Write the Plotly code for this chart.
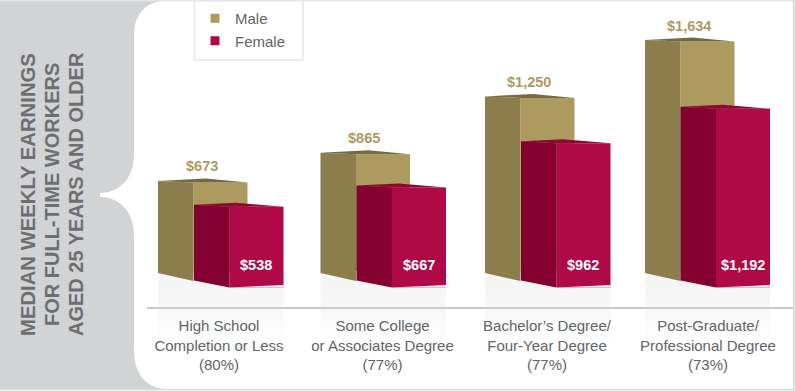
import plotly.graph_objects as go

categories = ["High School<br>Completion or Less<br>(80%)",
              "Some College<br>or Associates Degree<br>(77%)",
              "Bachelor\u2019s Degree/<br>Four-Year Degree<br>(77%)",
              "Post-Graduate/<br>Professional Degree<br>(73%)"]
male = [673, 865, 1250, 1634]
female = [538, 667, 962, 1192]
axis_title_lines = ["MEDIAN WEEKLY EARNINGS", "FOR FULL-TIME WORKERS", "AGED 25 YEARS AND OLDER"]

# layout constants
W, H = 795, 391
FONT = "Liberation Sans"
male_left = [158, 320.5, 485, 645]
female_left = [194, 356.5, 521, 680.5]
tick_pos = [219, 382.5, 547, 708]
SIDE, FRONT = 35.5, 54
M_SCALE, F_SCALE = 0.1465, 0.150   # px per dollar
M_BASE, F_BASE = 281, 287.5        # px of the zero line of each bar family

M_FRONT, M_SIDE, M_TOP = "#ad9a5f", "#8c7d4c", "#76693f"
F_FRONT, F_SIDE, F_TOP = "#b00a46", "#84002f", "#8e0736"
TEXT = "#636466"

m_range = [(M_BASE - H) / M_SCALE, M_BASE / M_SCALE]
f_range = [(F_BASE - H) / F_SCALE, F_BASE / F_SCALE]
def md(v, dy=0):  # value on male axis, dy px upward
    return v + dy / M_SCALE
def fd(v, dy=0):
    return v + dy / F_SCALE
def px(x): return x / W
def py(y): return 1 - y / H

fig = go.Figure()

def poly(xs, ys, color, axis):
    fig.add_trace(go.Scatter(x=xs, y=ys, mode="lines", fill="toself", fillcolor=color,
                             line=dict(width=0), yaxis=axis, showlegend=False, hoverinfo="skip"))

# reflection below each pair of bars
for l0, l1 in zip(male_left, female_left):
    x0, x1 = l0, l1 + SIDE + FRONT
    fig.add_trace(go.Scatter(
        x=[x0, x1, x1, x0, x0],
        y=[md(0, 10), md(0, 10), md(0, -64), md(0, -64), md(0, 10)],
        mode="lines", line=dict(width=0), fill="toself",
        fillgradient=dict(type="vertical", colorscale=[[0, "#ffffff"], [0.45, "#f8f8f8"], [1, "#f4f4f5"]]),
        showlegend=False, hoverinfo="skip"))

# male bars
fig.add_trace(go.Bar(x=[l + SIDE + FRONT / 2 for l in male_left], y=male, width=FRONT,
                     marker=dict(color=M_FRONT, line=dict(width=0)), showlegend=False,
                     name="Male", hovertemplate="Male: $%{y}<extra></extra>"))
for l, v in zip(male_left, male):
    a, b, c = l, l + SIDE, l + SIDE + FRONT
    poly([a, b, b, a, a], [md(v, 1.5), md(v), md(0), md(0, 8), md(v, 1.5)], M_SIDE, "y")
    poly([a, a + 48, c, b, a], [md(v, 1.5), md(v, 4), md(v), md(v), md(v, 1.5)], M_TOP, "y")

# female bars
fig.add_trace(go.Bar(x=[l + SIDE + FRONT / 2 for l in female_left], y=female, width=FRONT,
                     marker=dict(color=F_FRONT, line=dict(width=0)), showlegend=False,
                     name="Female", yaxis="y2", hovertemplate="Female: $%{y}<extra></extra>"))
for l, v in zip(female_left, female):
    a, b, c = l, l + SIDE, l + SIDE + FRONT
    poly([a, b, b, a, a], [fd(v, 2), fd(v), fd(0), fd(0, 7), fd(v, 2)], F_SIDE, "y2")
    poly([a, a + 42, c, b, a], [fd(v, 2), fd(v, 4), fd(v), fd(v), fd(v, 2)], F_TOP, "y2")
    # the slightly tilted lower edge of the front face
    poly([b, c, c, b], [fd(0), fd(0, 2.5), fd(0), fd(0)], "#f4f4f5", "y2")

# legend entries
for name, col in (("Male", M_FRONT), ("Female", F_FRONT)):
    fig.add_trace(go.Scatter(x=[None], y=[None], mode="markers", name=name,
                             marker=dict(symbol="square", size=9, color=col, line=dict(width=0))))

ann = []
for l, v in zip(male_left, male):
    ann.append(dict(x=l + 43.5, y=v, xref="x", yref="y", text=f"${v:,}", showarrow=False, yshift=16,
                    font=dict(family=FONT, size=14.5, color=M_FRONT, weight="bold")))
for l, v in zip(female_left, female):
    ann.append(dict(x=l + SIDE + FRONT / 2 - 0.5, y=0, xref="x", yref="y2", text=f"${v:,}", showarrow=False, yshift=23,
                    font=dict(family=FONT, size=14.5, color="#ffffff", weight="bold")))
for x, t, s in zip([27.5, 51.5, 75.5], axis_title_lines, [20.3, 20, 20]):
    ann.append(dict(x=px(x), y=py(194.5), xref="paper", yref="paper", text=t, textangle=-90, showarrow=False,
                    xanchor="center", yanchor="middle",
                    font=dict(family=FONT, size=s, color="#6d6e71", weight="bold")))

def panel_path():
    pts = [("M", 166, 1), ("L", 793, 1), ("L", 793, 389), ("L", 168, 389),
           ("C", 146, 389, 134, 374, 134, 350), ("L", 134, 236),
           ("C", 134, 210, 118, 197, 100, 197), ("L", 100, 193),
           ("C", 118, 193, 134, 180, 134, 154), ("L", 134, 36),
           ("C", 134, 14, 146, 1, 166, 1)]
    s = ""
    for p in pts:
        coords = p[1:]
        s += p[0] + " " + " ".join(f"{px(coords[i]):.5f},{py(coords[i+1]):.5f}" for i in range(0, len(coords), 2)) + " "
    return s + "Z"

def rect(x0, y0, x1, y1, **kw):
    return dict(type="rect", xref="paper", yref="paper", x0=px(x0), x1=px(x1), y0=py(y0), y1=py(y1), layer="below", **kw)

shapes = [
    rect(0, 1, 793, 389, fillcolor="#d1d3d4", line=dict(width=0)),
    dict(type="path", xref="paper", yref="paper", path=panel_path(), fillcolor="#ffffff", line=dict(width=0), layer="below"),
    rect(0, 0, 793, 1.5, fillcolor="#e4e4e5", line=dict(width=0)),
    rect(0, 389, 794.5, 390.5, fillcolor="#dcdddd", line=dict(width=0)),
    rect(793, 0, 794.5, 390.5, fillcolor="#d4d5d6", line=dict(width=0)),
    rect(194.5, 0, 303, 60, fillcolor="rgba(0,0,0,0)", line=dict(color="#e6e7e8", width=1.5)),
]

fig.update_layout(
    width=W, height=H, autosize=False, margin=dict(l=0, r=0, t=0, b=0),
    paper_bgcolor="#ffffff", plot_bgcolor="rgba(0,0,0,0)",
    barmode="overlay", hovermode="closest",
    font=dict(family=FONT, color=TEXT),
    xaxis=dict(domain=[px(147), px(793)], range=[147, 793], anchor="free", position=py(307.5),
               tickmode="array", tickvals=tick_pos, ticktext=categories, ticks="",
               ticklabelstandoff=5, tickfont=dict(family=FONT, size=15, color=TEXT),
               showgrid=False, zeroline=False, showline=True, linecolor="#c9caca", linewidth=1.5),
    yaxis=dict(domain=[0, 1], range=m_range, visible=False, fixedrange=True),
    yaxis2=dict(domain=[0, 1], range=f_range, visible=False, overlaying="y", fixedrange=True),
    legend=dict(x=px(195), y=py(2), xanchor="left", yanchor="top", bgcolor="rgba(0,0,0,0)",
                font=dict(family=FONT, size=15, color=TEXT), borderwidth=0, tracegroupgap=0),
    shapes=shapes, annotations=ann,
)
fig.write_html("out.html", config=dict(displayModeBar=False),
               post_script="document.documentElement.style.overflow='hidden';document.body.style.margin='0';document.body.style.overflow='hidden';")
